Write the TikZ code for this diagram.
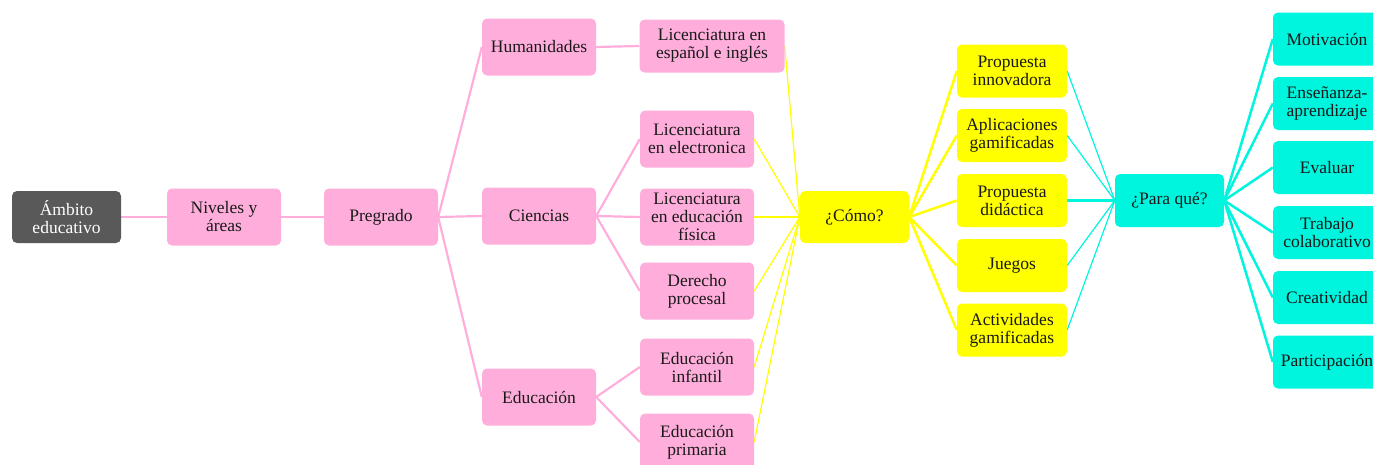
\documentclass[tikz,border=0pt]{standalone}
\usepackage{fontspec}
\setmainfont{Liberation Serif}
\usetikzlibrary{backgrounds}
\definecolor{rosa}{RGB}{255,174,220}
\definecolor{amarillo}{RGB}{255,255,0}
\definecolor{turquesa}{RGB}{0,245,222}
\definecolor{gris}{RGB}{89,89,89}
\begin{document}
\begin{tikzpicture}[x=1pt, y=-1pt,
  caja/.style={rounded corners=5pt, minimum width=114pt, minimum height=57pt, inner sep=1pt, align=center, text=black!90, font=\fontsize{17.5}{18}\selectfont},
  gris caja/.style={caja, fill=gris, text=white, minimum width=109pt, minimum height=52pt},
  rosa caja/.style={caja, fill=rosa},
  amarilla caja/.style={caja, fill=amarillo, minimum width=110pt, minimum height=53pt},
  turquesa caja/.style={caja, fill=turquesa, minimum width=109pt, minimum height=53pt},
  linea rosa/.style={draw=rosa, line width=2.2pt},
  linea amarilla/.style={draw=amarillo, line width=1.2pt},
  linea amarilla gruesa/.style={draw=amarillo, line width=2.5pt},
  linea turquesa/.style={draw=turquesa, line width=1.2pt},
  linea turquesa gruesa/.style={draw=turquesa, line width=2.5pt}]

\useasboundingbox (0,0) rectangle (1373,464);

\node[gris caja] (n1) at (66.5,217) {Ámbito\\educativo};
\node[rosa caja] (n2) at (224,217) {Niveles y\\áreas};
\node[rosa caja] (n3) at (381,217) {Pregrado};

\node[rosa caja] (n4) at (539,47) {Humanidades};
\node[rosa caja] (n5) at (539,216) {Ciencias};
\node[rosa caja] (n6) at (539,397) {Educación};

\node[rosa caja, minimum width=145pt, minimum height=53pt] (n7) at (712,46) {Licenciatura en\\español e inglés};
\node[rosa caja] (n8) at (697,139) {Licenciatura\\en electronica};
\node[rosa caja] (n9) at (697,217) {Licenciatura\\en educación\\física};
\node[rosa caja] (n10) at (697,291) {Derecho\\procesal};
\node[rosa caja] (n11) at (697,367) {Educación\\infantil};
\node[rosa caja] (n12) at (697,442) {Educación\\primaria};

\node[amarilla caja, minimum width=109pt, minimum height=52pt] (n13) at (854.5,217) {¿Cómo?};

\node[amarilla caja] (n14) at (1012,71) {Propuesta\\innovadora};
\node[amarilla caja] (n15) at (1012,135.5) {Aplicaciones\\gamificadas};
\node[amarilla caja] (n16) at (1012,200.5) {Propuesta\\didáctica};
\node[amarilla caja] (n17) at (1012,265.5) {Juegos};
\node[amarilla caja] (n18) at (1012,330) {Actividades\\gamificadas};

\node[turquesa caja] (n19) at (1169.5,200.5) {¿Para qué?};

\node[turquesa caja, minimum width=108pt] (n20) at (1327,39) {Motivación};
\node[turquesa caja, minimum width=108pt] (n21) at (1327,103.5) {Enseñanza-\\aprendizaje};
\node[turquesa caja, minimum width=108pt] (n22) at (1327,167.5) {Evaluar};
\node[turquesa caja, minimum width=108pt] (n23) at (1327,232.5) {Trabajo\\colaborativo};
\node[turquesa caja, minimum width=108pt] (n24) at (1327,297.5) {Creatividad};
\node[turquesa caja, minimum width=108pt] (n25) at (1327,362) {Participación};

\begin{scope}[on background layer]
% rosa
\draw[linea rosa] (n1.east) to (n2.west);
\draw[linea rosa] (n2.east) to (n3.west);
\draw[linea rosa] (n3.east) to (n4.west);
\draw[linea rosa] (n3.east) to (n5.west);
\draw[linea rosa] (n3.east) to (n6.west);
\draw[linea rosa] (n4.east) to (n7.west);
\draw[linea rosa] (n5.east) to (n8.west);
\draw[linea rosa] (n5.east) to (n9.west);
\draw[linea rosa] (n5.east) to (n10.west);
\draw[linea rosa] (n6.east) to (n11.west);
\draw[linea rosa] (n6.east) to (n12.west);

% amarillo
\draw[linea amarilla] (n7.east) to (n13.west);
\draw[linea amarilla] (n8.east) to (n13.west);
\draw[linea amarilla gruesa] (n9.east) to (n13.west);
\draw[linea amarilla] (n10.east) to (n13.west);
\draw[linea amarilla] (n11.east) to (n13.west);
\draw[linea amarilla] (n12.east) to (n13.west);
\draw[linea amarilla gruesa] (n13.east) to (n14.west);
\draw[linea amarilla gruesa] (n13.east) to (n15.west);
\draw[linea amarilla gruesa] (n13.east) to (n16.west);
\draw[linea amarilla gruesa] (n13.east) to (n17.west);
\draw[linea amarilla gruesa] (n13.east) to (n18.west);

% turquesa
\draw[linea turquesa] (n14.east) to (n19.west);
\draw[linea turquesa] (n15.east) to (n19.west);
\draw[linea turquesa gruesa] (n16.east) to (n19.west);
\draw[linea turquesa] (n17.east) to (n19.west);
\draw[linea turquesa] (n18.east) to (n19.west);
\draw[linea turquesa gruesa] (n19.east) to (n20.west);
\draw[linea turquesa gruesa] (n19.east) to (n21.west);
\draw[linea turquesa gruesa] (n19.east) to (n22.west);
\draw[linea turquesa gruesa] (n19.east) to (n23.west);
\draw[linea turquesa gruesa] (n19.east) to (n24.west);
\draw[linea turquesa gruesa] (n19.east) to (n25.west);
\end{scope}

\end{tikzpicture}
\end{document}
